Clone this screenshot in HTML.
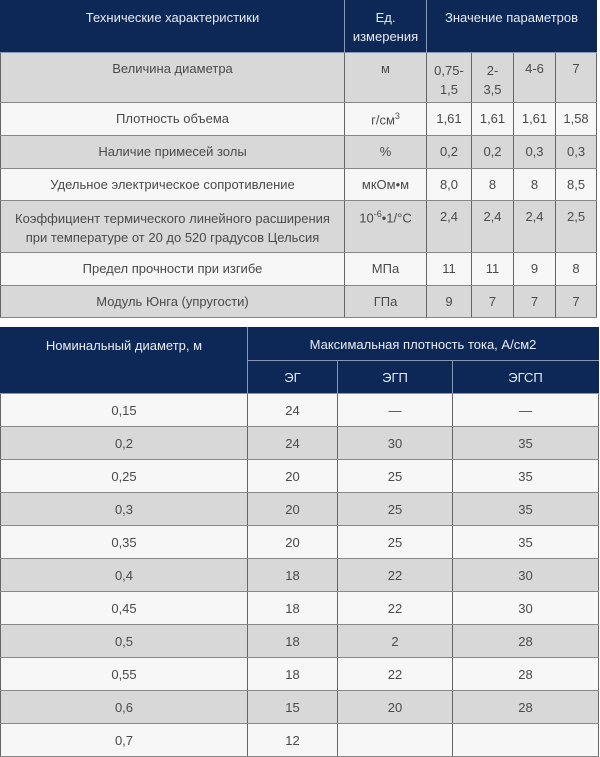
<!DOCTYPE html>
<html><head><meta charset="utf-8"><style>
body{margin:0;width:600px;height:755px;background:#fff;overflow:hidden;font-family:"Liberation Sans","DejaVu Sans",sans-serif;font-size:13px;color:#4a4a4a}
table{border-collapse:collapse;table-layout:fixed;position:absolute;left:0}
td,th{padding:0;text-align:center;border:1px solid #666;font-weight:normal}
th{background:#0d2856;color:#e8ecf3;border:1px solid #8796b3;}
td{border-top:1px solid #888;border-bottom:1px solid #888}
.g td{background:#d8d8d8}
.w td{background:#f7f7f7}
#t1 td{vertical-align:top;padding-top:8px}
sup{font-size:9px}
</style></head><body>
<table id="t1" style="top:0;width:596px">
<colgroup><col style="width:344px"><col style="width:82px"><col style="width:45px"><col style="width:42px"><col style="width:42px"><col style="width:41px"></colgroup>
<tr style="height:52px"><th style="vertical-align:top;padding-top:9px;border-left-color:#0d2856;border-top-color:#0d2856">Технические характеристики</th><th style="line-height:19px;border-top-color:#0d2856">Ед.<br>измерения</th><th colspan="4" style="vertical-align:top;padding-top:9px;border-top-color:#0d2856;border-right-color:#0d2856">Значение параметров</th></tr>
<tr class="g" style="height:50px"><td>Величина диаметра</td><td>м</td><td style="line-height:19px">0,75-<br>1,5</td><td style="line-height:19px">2-<br>3,5</td><td>4-6</td><td>7</td></tr>
<tr class="w" style="height:33px"><td>Плотность объема</td><td>г/см<sup>3</sup></td><td>1,61</td><td>1,61</td><td>1,61</td><td>1,58</td></tr>
<tr class="g" style="height:33px"><td>Наличие примесей золы</td><td>%</td><td>0,2</td><td>0,2</td><td>0,3</td><td>0,3</td></tr>
<tr class="w" style="height:32px"><td>Удельное электрическое сопротивление</td><td>мкОм•м</td><td>8,0</td><td>8</td><td>8</td><td>8,5</td></tr>
<tr class="g" style="height:52px"><td style="line-height:19px">Коэффициент термического линейного расширения<br>при температуре от 20 до 520 градусов Цельсия</td><td>10<sup>-6</sup>•1/°C</td><td>2,4</td><td>2,4</td><td>2,4</td><td>2,5</td></tr>
<tr class="w" style="height:33px"><td>Предел прочности при изгибе</td><td>МПа</td><td>11</td><td>11</td><td>9</td><td>8</td></tr>
<tr class="g" style="height:32px"><td>Модуль Юнга (упругости)</td><td>ГПа</td><td>9</td><td>7</td><td>7</td><td>7</td></tr>
</table>
<table id="t2" style="top:327px;width:598px">
<colgroup><col style="width:247px"><col style="width:90px"><col style="width:115px"><col style="width:146px"></colgroup>
<tr style="height:33px"><th rowspan="2" style="vertical-align:top;padding-top:10px;border-left-color:#0d2856;border-top-color:#0d2856">Номинальный диаметр, м</th><th colspan="3" style="border-top-color:#0d2856;border-right-color:#0d2856">Максимальная плотность тока, А/см2</th></tr>
<tr style="height:33px"><th>ЭГ</th><th>ЭГП</th><th style="border-right-color:#0d2856">ЭГСП</th></tr>
<tr class="w" style="height:33px"><td>0,15</td><td>24</td><td>—</td><td>—</td></tr>
<tr class="g" style="height:33px"><td>0,2</td><td>24</td><td>30</td><td>35</td></tr>
<tr class="w" style="height:33px"><td>0,25</td><td>20</td><td>25</td><td>35</td></tr>
<tr class="g" style="height:33px"><td>0,3</td><td>20</td><td>25</td><td>35</td></tr>
<tr class="w" style="height:33px"><td>0,35</td><td>20</td><td>25</td><td>35</td></tr>
<tr class="g" style="height:33px"><td>0,4</td><td>18</td><td>22</td><td>30</td></tr>
<tr class="w" style="height:33px"><td>0,45</td><td>18</td><td>22</td><td>30</td></tr>
<tr class="g" style="height:33px"><td>0,5</td><td>18</td><td>2</td><td>28</td></tr>
<tr class="w" style="height:33px"><td>0,55</td><td>18</td><td>22</td><td>28</td></tr>
<tr class="g" style="height:33px"><td>0,6</td><td>15</td><td>20</td><td>28</td></tr>
<tr class="w" style="height:33px"><td>0,7</td><td>12</td><td></td><td></td></tr>
</table>
</body></html>
